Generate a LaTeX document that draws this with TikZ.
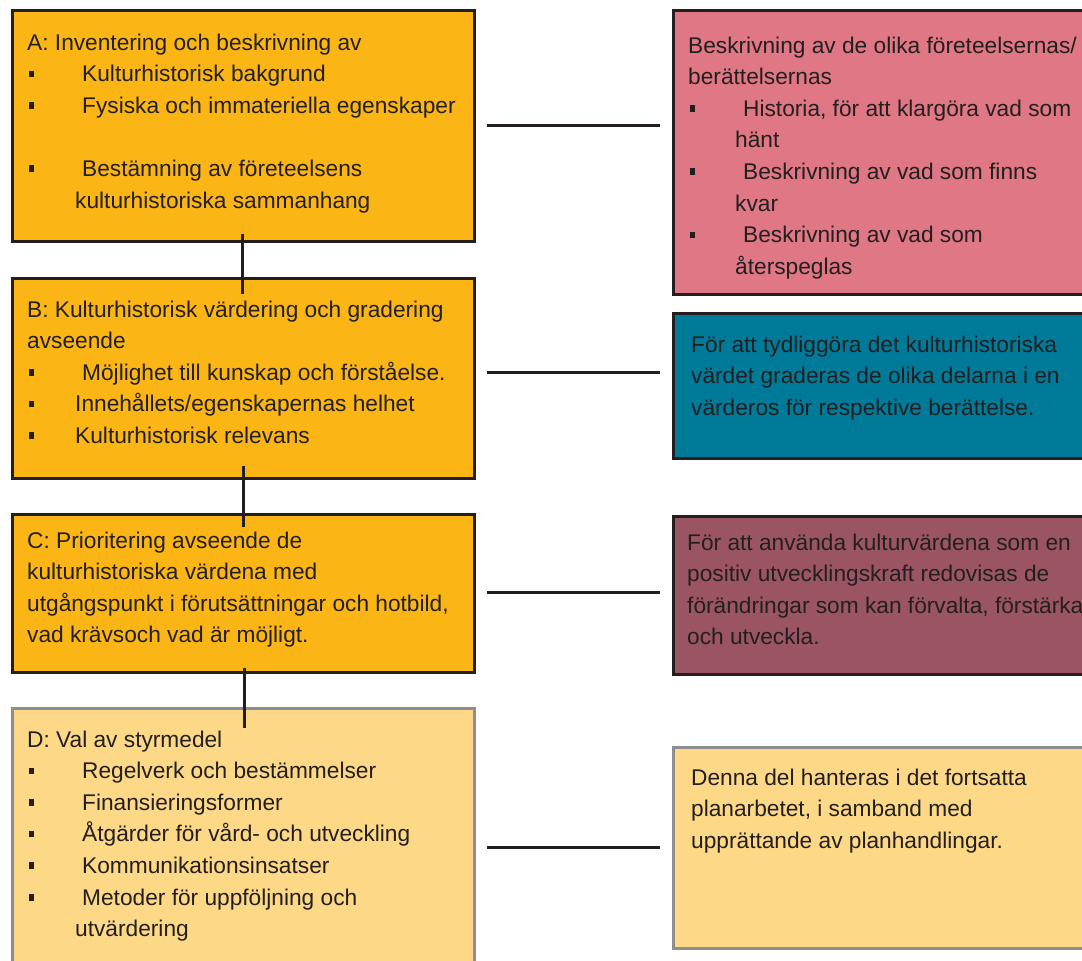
\documentclass[tikz,border=0pt]{standalone}
\usepackage{fontspec}
\setmainfont{Liberation Sans}
\usetikzlibrary{calc}
\definecolor{ink}{HTML}{231F20}
\definecolor{orangebox}{HTML}{FBB616}
\definecolor{pinkbox}{HTML}{DF7884}
\definecolor{bluebox}{HTML}{007A99}
\definecolor{mauvebox}{HTML}{9B5562}
\definecolor{paleyellow}{HTML}{FDD987}
\definecolor{grayline}{HTML}{8E8E8E}
\newcommand{\sqb}[1]{\makebox[#1][l]{\hspace{1.5pt}\rule[4.5pt]{5.5pt}{6.5pt}}}
\tikzset{
  box/.style={rectangle, draw=ink, line width=2.5pt, anchor=north west, inner sep=0pt},
  obox/.style={box, fill=orangebox},
  ybox/.style={box, draw=grayline, fill=paleyellow},
  txt/.style={anchor=base west, inner sep=0pt, text=ink, font=\fontsize{22.7}{31.6}\selectfont},
  conn/.style={draw=ink, line width=2.6pt}
}
\newcommand{\tb}[1]{\parbox[t]{700pt}{\raggedright #1}}
\begin{document}
\begin{tikzpicture}[x=1pt, y=-1pt]
\useasboundingbox (0,0) rectangle (1082,961);
\clip (0,0) rectangle (1082,961);
% left column boxes
\node[obox, minimum width=462pt, minimum height=231pt] (A) at (11,9) {};
\node[obox, minimum width=462pt, minimum height=200pt] (B) at (11,277) {};
\node[obox, minimum width=462pt, minimum height=158pt] (C) at (11,513) {};
\node[ybox, minimum width=462pt, minimum height=270pt] (D) at (11,707) {};
% right column boxes
\node[box, fill=pinkbox, minimum width=430pt, minimum height=284pt] (P) at (672,9) {};
\node[box, fill=bluebox, minimum width=430pt, minimum height=145pt] (Q) at (672,312) {};
\node[box, fill=mauvebox, minimum width=430pt, minimum height=158pt] (R) at (672,515) {};
\node[ybox, minimum width=430pt, minimum height=201pt] (S) at (672,746) {};
% texts
\node[txt] (At) at (27,50) {\tb{A: Inventering och beskrivning av\\
\sqb{55pt}Kulturhistorisk bakgrund\\
\sqb{55pt}Fysiska och immateriella egenskaper\\[31.6pt]
\sqb{55pt}Bestämning av företeelsens\\
\hspace*{48pt}kulturhistoriska sammanhang}};
\node[txt] (Bt) at (27,317) {\tb{B: Kulturhistorisk värdering och gradering\\
avseende\\
\sqb{55pt}Möjlighet till kunskap och förståelse.\\
\sqb{48pt}Innehållets/egenskapernas helhet\\
\sqb{48pt}Kulturhistorisk relevans}};
\node[txt] (Ct) at (27,548) {\tb{C: Prioritering avseende de\\
kulturhistoriska värdena med\\
utgångspunkt i förutsättningar och hotbild,\\
vad krävsoch vad är möjligt.}};
\node[txt] (Dt) at (27,747) {\tb{D: Val av styrmedel\\
\sqb{55pt}Regelverk och bestämmelser\\
\sqb{55pt}Finansieringsformer\\
\sqb{55pt}Åtgärder för vård- och utveckling\\
\sqb{55pt}Kommunikationsinsatser\\
\sqb{55pt}Metoder för uppföljning och\\
\hspace*{48pt}utvärdering}};
\node[txt] (Pt) at (688,53) {\tb{Beskrivning av de olika företeelsernas/\\
berättelsernas\\
\sqb{55pt}Historia, för att klargöra vad som\\
\hspace*{47pt}hänt\\
\sqb{55pt}Beskrivning av vad som finns\\
\hspace*{47pt}kvar\\
\sqb{55pt}Beskrivning av vad som\\
\hspace*{47pt}återspeglas}};
\node[txt] (Qt) at (691,352) {\tb{För att tydliggöra det kulturhistoriska\\
värdet graderas de olika delarna i en\\
värderos för respektive berättelse.}};
\node[txt] (Rt) at (687,550) {\tb{För att använda kulturvärdena som en\\
positiv utvecklingskraft redovisas de\\
förändringar som kan förvalta, förstärka\\
och utveckla.}};
\node[txt] (St) at (691,785) {\tb{Denna del hanteras i det fortsatta\\
planarbetet, i samband med\\
upprättande av planhandlingar.}};
% vertical connectors
\draw[conn] ([xshift=-1pt,yshift=9pt]A.south) -- ([xshift=-1pt,yshift=-17pt]B.north);
\draw[conn] ([yshift=14pt]B.south) -- ([yshift=-14pt]C.north);
\draw[conn] ([xshift=1pt,yshift=6pt]C.south) -- ([xshift=1pt,yshift=-21pt]D.north);
% horizontal connectors
\draw[conn] ([xshift=11pt]A.east) -- ([xshift=-12pt]P.west |- A.east);
\draw[conn] ([xshift=11pt,yshift=6pt]B.east) coordinate (b1) -- ([xshift=-12pt]Q.west |- b1);
\draw[conn] ([xshift=11pt,yshift=1pt]C.east) coordinate (c1) -- ([xshift=-12pt]R.west |- c1);
\draw[conn] ([xshift=11pt,yshift=-4pt]D.east) coordinate (d1) -- ([xshift=-12pt]S.west |- d1);
\end{tikzpicture}
\end{document}
